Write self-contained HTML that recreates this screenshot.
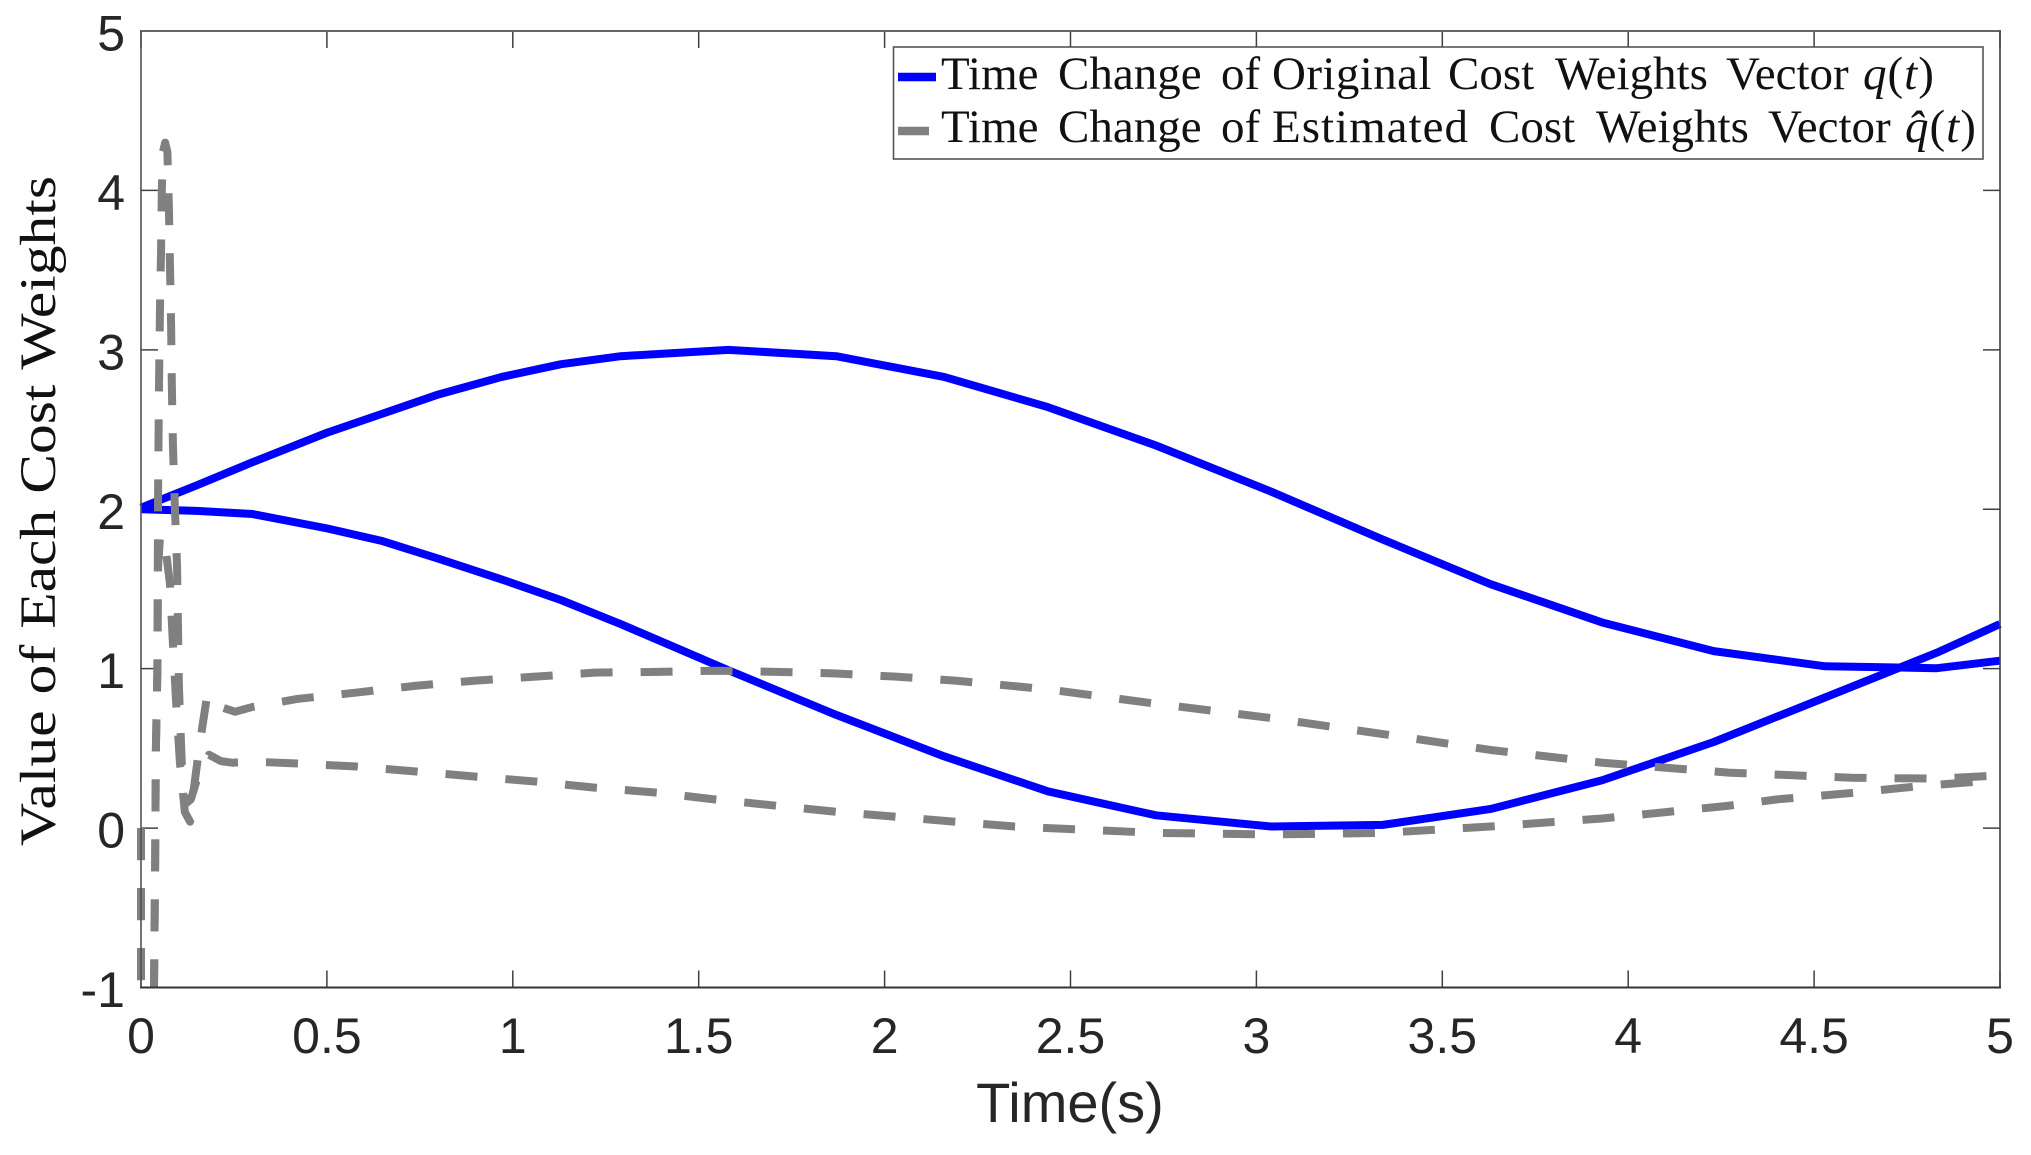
<!DOCTYPE html>
<html lang="en">
<head>
<meta charset="utf-8">
<title>Time Change of Cost Weights</title>
<style>
html,body{margin:0;padding:0;background:#fff;}
svg{display:block;}
.tick-label{font-family:"Liberation Sans",Arial,sans-serif;font-size:50px;fill:#262626;}
.axis-title{font-family:"Liberation Sans",Arial,sans-serif;font-size:56px;fill:#262626;}
.cm{font-family:"Liberation Serif","Times New Roman",serif;fill:#111;}
</style>
</head>
<body>
<svg id="chart" xmlns="http://www.w3.org/2000/svg" width="2031" height="1155" viewBox="0 0 2031 1155">
  <rect x="0" y="0" width="2031" height="1155" fill="#ffffff"></rect>
  <defs>
    <clipPath id="plot-clip"><rect x="130" y="31" width="1872" height="957"></rect></clipPath>
  </defs>
  <g id="ticks"></g>
  <g id="series" clip-path="url(#plot-clip)"></g>
  <g id="frame"></g>
  <g id="labels"></g>

  <text class="axis-title" x="1070" y="1122" text-anchor="middle">Time(s)</text>
  <text class="cm" transform="translate(55,846) rotate(-90)" x="0" y="0" font-size="51" word-spacing="1" textLength="670" lengthAdjust="spacingAndGlyphs">Value of Each Cost Weights</text>

  <g>
    <rect x="893.5" y="47" width="1089.5" height="112" fill="#ffffff" stroke="#555555" stroke-width="1.6"></rect>
    <line x1="898" y1="77" x2="936" y2="77" stroke="#0000ff" stroke-width="8.5"></line>
    <line x1="898" y1="131" x2="929" y2="131" stroke="#808080" stroke-width="8.5"></line>
    <text class="cm" y="89" font-size="47"><tspan x="941">Time</tspan> <tspan x="1058">Change</tspan> <tspan x="1221">of</tspan> <tspan x="1272" letter-spacing="0.4">Original</tspan> <tspan x="1448">Cost</tspan> <tspan x="1555">Weights</tspan> <tspan x="1726">Vector</tspan> <tspan x="1863" letter-spacing="1" font-style="italic">q</tspan><tspan letter-spacing="1">(</tspan><tspan letter-spacing="1" font-style="italic">t</tspan><tspan>)</tspan></text>
    <text class="cm" y="142" font-size="47"><tspan x="941">Time</tspan> <tspan x="1058">Change</tspan> <tspan x="1221">of</tspan> <tspan x="1272" letter-spacing="1">Estimated</tspan> <tspan x="1489">Cost</tspan> <tspan x="1596">Weights</tspan> <tspan x="1768">Vector</tspan> <tspan x="1905" letter-spacing="1" font-style="italic">q&#770;</tspan><tspan letter-spacing="1">(</tspan><tspan letter-spacing="1" font-style="italic">t</tspan><tspan>)</tspan></text>
  </g>
</svg>
<script>
// Chart data
const xTickValues = [0, 0.5, 1, 1.5, 2, 2.5, 3, 3.5, 4, 4.5, 5];
const xTickLabels = ["0", "0.5", "1", "1.5", "2", "2.5", "3", "3.5", "4", "4.5", "5"];
const yTickValues = [-1, 0, 1, 2, 3, 4, 5];
const yTickLabels = ["-1", "0", "1", "2", "3", "4", "5"];

const originalTimes = [0, 0.15, 0.3, 0.5, 0.65, 0.8, 0.97, 1.13, 1.29, 1.58, 1.87, 2.16, 2.44, 2.73, 3.04, 3.34, 3.63, 3.93, 4.23, 4.53, 4.83, 5];
const originalUpper = [2.01, 2.15, 2.295, 2.48, 2.60, 2.72, 2.83, 2.91, 2.96, 3.00, 2.96, 2.83, 2.64, 2.40, 2.11, 1.81, 1.53, 1.29, 1.11, 1.015, 1.003, 1.05];
const originalLower = [2.00, 1.99, 1.97, 1.88, 1.80, 1.69, 1.56, 1.43, 1.28, 0.99, 0.71, 0.45, 0.23, 0.08, 0.01, 0.02, 0.12, 0.30, 0.54, 0.82, 1.10, 1.28];

const estimatedUpperTimes = [0, 0, 0.005, 0.016, 0.027, 0.035, 0.038, 0.040, 0.044, 0.046, 0.048, 0.051, 0.054, 0.056, 0.059, 0.065, 0.071, 0.075, 0.078, 0.081, 0.083, 0.086, 0.091, 0.097, 0.0995, 0.102, 0.108, 0.113, 0.118, 0.132, 0.14, 0.153, 0.164, 0.177, 0.191, 0.22, 0.253, 0.30, 0.42, 0.58, 0.74, 0.9, 1.06, 1.22, 1.39, 1.55, 1.71, 1.87, 2.03, 2.19, 2.35, 2.44, 2.73, 3.04, 3.34, 3.63, 3.93, 4.27, 4.6, 4.83, 5];
const estimatedUpperValues = [0, -0.945, -1.33, -1.45, -1.33, -0.995, -0.24, 0.49, 0.98, 2.11, 2.69, 3.25, 3.63, 4.0, 4.24, 4.30, 4.24, 3.9, 3.52, 3.15, 2.77, 2.39, 2.02, 1.64, 1.26, 0.89, 0.51, 0.22, 0.10, 0.04, 0.21, 0.44, 0.62, 0.82, 0.84, 0.755, 0.73, 0.76, 0.81, 0.85, 0.893, 0.925, 0.95, 0.975, 0.98, 0.987, 0.98, 0.97, 0.95, 0.925, 0.89, 0.87, 0.78, 0.69, 0.59, 0.49, 0.41, 0.348, 0.316, 0.31, 0.33];

const estimatedLowerTimes = [0, 0, 0.005, 0.016, 0.027, 0.035, 0.038, 0.040, 0.044, 0.046, 0.051, 0.062, 0.07, 0.078, 0.086, 0.095, 0.105, 0.116, 0.124, 0.134, 0.159, 0.183, 0.215, 0.245, 0.30, 0.42, 0.58, 0.74, 0.9, 1.06, 1.22, 1.39, 1.55, 1.71, 1.87, 2.03, 2.19, 2.35, 2.44, 2.73, 3.04, 3.34, 3.63, 3.93, 4.27, 4.4, 4.6, 4.77, 4.93, 5];
const estimatedLowerValues = [0, -0.945, -1.33, -1.45, -1.33, -0.995, -0.24, 0.49, 0.98, 1.64, 1.82, 1.84, 1.68, 1.53, 1.15, 0.77, 0.40, 0.24, 0.16, 0.18, 0.37, 0.46, 0.42, 0.41, 0.417, 0.405, 0.386, 0.355, 0.323, 0.292, 0.254, 0.222, 0.178, 0.14, 0.102, 0.071, 0.04, 0.01, 0, -0.03, -0.04, -0.03, 0.01, 0.06, 0.14, 0.18, 0.22, 0.26, 0.29, 0.31];

const SVG_NS = "http://www.w3.org/2000/svg";
const plotLeft = 141, plotRight = 2000, plotTop = 31, plotBottom = 987.5;
const xMin = 0, xMax = 5, yMin = -1, yMax = 5;
const tickLength = 17;

function xScale(t) { return plotLeft + (t - xMin) / (xMax - xMin) * (plotRight - plotLeft); }
function yScale(v) { return plotBottom - (v - yMin) / (yMax - yMin) * (plotBottom - plotTop); }

function makeLine(parent, x1, y1, x2, y2, color, width) {
  const el = document.createElementNS(SVG_NS, "line");
  el.setAttribute("x1", x1);
  el.setAttribute("y1", y1);
  el.setAttribute("x2", x2);
  el.setAttribute("y2", y2);
  el.setAttribute("stroke", color);
  el.setAttribute("stroke-width", width);
  parent.appendChild(el);
  return el;
}

function makePath(times, values, color, dashed, name) {
  const d = times.map((t, i) => (i ? "L" : "M") + xScale(t).toFixed(2) + " " + yScale(values[i]).toFixed(2)).join(" ");
  const el = document.createElementNS(SVG_NS, "path");
  el.setAttribute("d", d);
  el.setAttribute("fill", "none");
  el.setAttribute("stroke", color);
  el.setAttribute("stroke-width", dashed ? 8 : 8);
  el.setAttribute("stroke-linejoin", "round");
  if (dashed) el.setAttribute("stroke-dasharray", "32 28");
  
  
  document.getElementById("series").appendChild(el);
}

const ticksGroup = document.getElementById("ticks");
const labelsGroup = document.getElementById("labels");
const frameGroup = document.getElementById("frame");

xTickValues.forEach(function (value, i) {
  const x = xScale(value);
  const bottomTick = makeLine(ticksGroup, x, plotBottom, x, plotBottom - tickLength, "#404040", 1.5);
  
  
  const topTick = makeLine(ticksGroup, x, plotTop, x, plotTop + tickLength, "#404040", 1.5);
  
  
  const label = document.createElementNS(SVG_NS, "text");
  label.setAttribute("class", "tick-label");
  label.setAttribute("x", x);
  label.setAttribute("y", 1053);
  label.setAttribute("text-anchor", "middle");
  
  
  label.textContent = xTickLabels[i];
  labelsGroup.appendChild(label);
});

yTickValues.forEach(function (value, i) {
  const y = yScale(value);
  const leftTick = makeLine(ticksGroup, plotLeft, y, plotLeft + tickLength, y, "#404040", 1.5);
  
  
  const rightTick = makeLine(ticksGroup, plotRight, y, plotRight - tickLength, y, "#404040", 1.5);
  
  
  const label = document.createElementNS(SVG_NS, "text");
  label.setAttribute("class", "tick-label");
  label.setAttribute("x", 125);
  label.setAttribute("y", y + 19.5);
  label.setAttribute("text-anchor", "end");
  
  
  label.textContent = yTickLabels[i];
  labelsGroup.appendChild(label);
});

makePath(originalTimes, originalUpper, "#0000ff", false, "original-weight-upper-line");
makePath(originalTimes, originalLower, "#0000ff", false, "original-weight-lower-line");
makePath(estimatedLowerTimes, estimatedLowerValues, "#808080", true, "estimated-weight-lower-line");
makePath(estimatedUpperTimes, estimatedUpperValues, "#808080", true, "estimated-weight-upper-line");

const topSpine = makeLine(frameGroup, plotLeft - 1, plotTop, plotRight + 1, plotTop, "#666666", 2);


const bottomSpine = makeLine(frameGroup, plotLeft - 1, plotBottom, plotRight + 1, plotBottom, "#333333", 2);


const leftSpine = makeLine(frameGroup, plotLeft, plotTop, plotLeft, plotBottom, "#505050", 1.6);


const rightSpine = makeLine(frameGroup, plotRight, plotTop, plotRight, plotBottom, "#404040", 1.6);


</script>
</body>
</html>
